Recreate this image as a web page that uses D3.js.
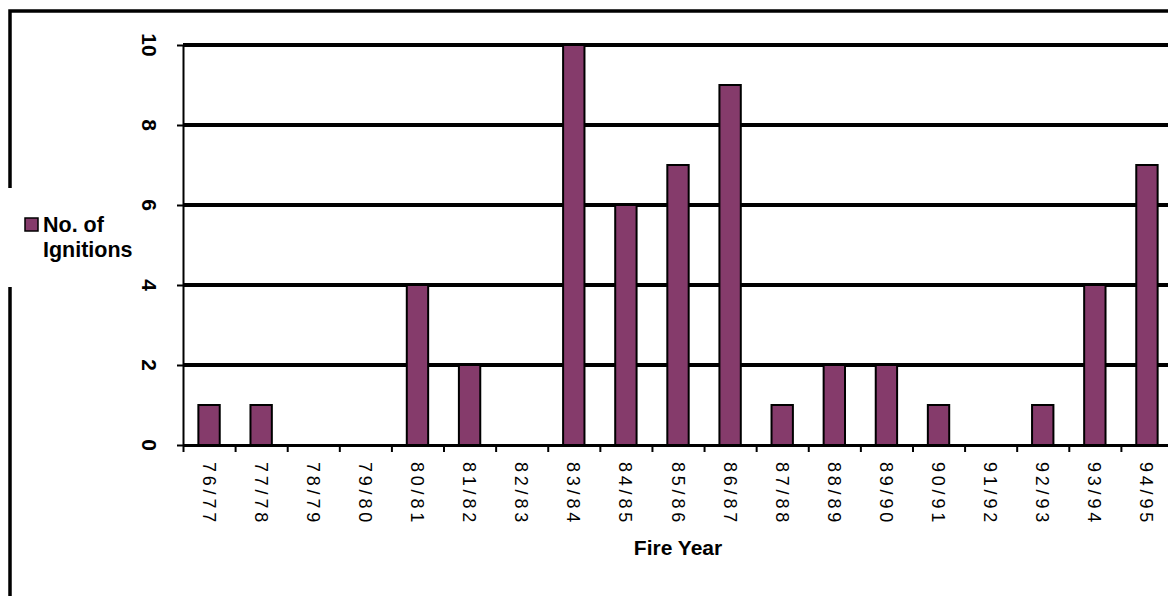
<!DOCTYPE html>
<html>
<head>
<meta charset="utf-8">
<script src="https://cdn.jsdelivr.net/npm/d3@7"></script>
<style>
  html, body { margin: 0; padding: 0; background: #fff; }
  svg { display: block; }
</style>
</head>
<body>
<svg id="chart" width="1168" height="596"></svg>
<script>
// Chart data:
var fireYears = ["76/77", "77/78", "78/79", "79/80", "80/81", "81/82", "82/83",
  "83/84", "84/85", "85/86", "86/87", "87/88", "88/89", "89/90", "90/91",
  "91/92", "92/93", "93/94", "94/95"];
var ignitions = [1, 1, 0, 0, 4, 2, 0, 10, 6, 7, 9, 1, 2, 2, 1, 0, 1, 4, 7];
var yTicks = [0, 2, 4, 6, 8, 10];
var seriesName = ["No. of", "Ignitions"];
var xTitle = "Fire Year";

var svg = d3.select("#chart");
var font = "'Liberation Sans', Arial, sans-serif";
var barColor = "#853b6b";

// Plot area (runs past the right edge of the picture, as in the original).
// Note: not named "top" since that one is window.top and can't be set.
var plotLeft = 183, plotRight = 1173, plotTop = 45, plotBottom = 445;

var x = d3.scaleBand()
  .domain(fireYears)
  .range([plotLeft, plotRight])
  .paddingInner(0.59)
  .paddingOuter(0.295);

// Category boundaries, for the tick marks between bars:
var xEdge = d3.scaleLinear().domain([0, fireYears.length]).range([plotLeft, plotRight]);

var y = d3.scaleLinear().domain([0, 10]).range([plotBottom, plotTop]);

// Outer chart border (also clipped on the right and bottom):
svg.append("rect")
  .attr("x", 10).attr("y", 11)
  .attr("width", 1200).attr("height", 640)
  .attr("fill", "none")
  .attr("stroke", "#000")
  .attr("stroke-width", 3.5);

// Horizontal gridlines:
svg.selectAll("line.grid")
  .data(yTicks.filter(function(d) { return d > 0; }))
  .enter().append("line")
  .attr("class", "grid")
  .attr("x1", plotLeft).attr("x2", plotRight)
  .attr("y1", function(d) { return y(d); })
  .attr("y2", function(d) { return y(d); })
  .attr("stroke", "#000")
  .attr("stroke-width", 4);

// Bars:
svg.selectAll("rect.bar")
  .data(ignitions.map(function(v, i) { return { year: fireYears[i], value: v }; })
    .filter(function(d) { return d.value > 0; }))
  .enter().append("rect")
  .attr("class", "bar")
  .attr("x", function(d) { return x(d.year); })
  .attr("width", x.bandwidth())
  .attr("y", function(d) { return y(d.value); })
  .attr("height", function(d) { return y(0) - y(d.value); })
  .attr("fill", barColor)
  .attr("stroke", "#000")
  .attr("stroke-width", 2);

// Left axis, ticks only (labels are rotated below):
var yAxis = svg.append("g")
  .attr("transform", "translate(" + plotLeft + ",0)")
  .call(d3.axisLeft(y).tickValues(yTicks).tickSize(6).tickSizeOuter(0).tickFormat(""));
yAxis.select(".domain").attr("stroke-width", 2);
yAxis.selectAll(".tick line").attr("stroke-width", 2);

svg.selectAll("text.ytick")
  .data(yTicks)
  .enter().append("text")
  .attr("class", "ytick")
  .attr("transform", function(d) { return "translate(150," + y(d) + ") rotate(90)"; })
  .attr("text-anchor", "middle")
  .attr("dy", "0.36em")
  .attr("font-family", font)
  .attr("font-weight", "bold")
  .attr("font-size", 21)
  .text(function(d) { return d; });

// Bottom axis with ticks at the category boundaries:
var xAxis = svg.append("g")
  .attr("transform", "translate(0," + plotBottom + ")")
  .call(d3.axisBottom(xEdge).tickValues(d3.range(fireYears.length + 1))
    .tickSize(7).tickSizeOuter(0).tickFormat(""));
xAxis.select(".domain").attr("stroke-width", 3);
xAxis.selectAll(".tick line").attr("stroke-width", 2);

svg.selectAll("text.xtick")
  .data(fireYears)
  .enter().append("text")
  .attr("class", "xtick")
  .attr("transform", function(d) {
    return "translate(" + (x(d) + x.bandwidth() / 2) + "," + (plotBottom + 17) + ") rotate(90)";
  })
  .attr("text-anchor", "start")
  .attr("dy", "0.36em")
  .attr("font-family", font)
  .attr("font-size", 18)
  .attr("letter-spacing", 3.8)
  .text(function(d) { return d; });

// Axis title:
svg.append("text")
  .attr("x", (plotLeft + plotRight) / 2)
  .attr("y", 555)
  .attr("text-anchor", "middle")
  .attr("font-family", font)
  .attr("font-weight", "bold")
  .attr("font-size", 21)
  .text(xTitle);

// Legend, its white box sits over the chart border:
var legend = svg.append("g");
legend.append("rect")
  .attr("x", 5).attr("y", 188)
  .attr("width", 135).attr("height", 99)
  .attr("fill", "#fff");
legend.append("rect")
  .attr("x", 25).attr("y", 218)
  .attr("width", 13).attr("height", 13)
  .attr("fill", barColor)
  .attr("stroke", "#000")
  .attr("stroke-width", 1.5);
legend.selectAll("text")
  .data(seriesName)
  .enter().append("text")
  .attr("x", 43)
  .attr("y", function(d, i) { return 232 + i * 25; })
  .attr("font-family", font)
  .attr("font-weight", "bold")
  .attr("font-size", 21.5)
  .text(function(d) { return d; });
</script>
</body>
</html>
